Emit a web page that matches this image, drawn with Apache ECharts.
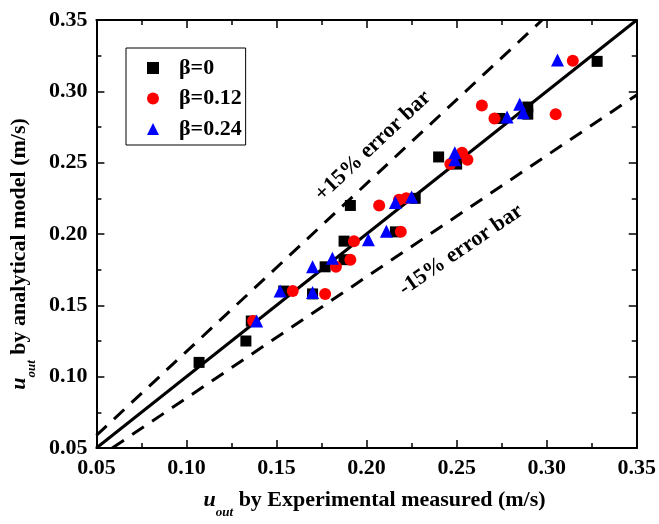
<!DOCTYPE html>
<html>
<head>
<meta charset="utf-8">
<script src="https://cdn.jsdelivr.net/npm/echarts@6/dist/echarts.min.js"></script>
<style>html,body{margin:0;padding:0;background:#fff}#c{width:659px;height:524px}</style>
</head>
<body>
<div id="c"></div>
<script>
// Experimental (x) vs analytical model (y) outlet velocity, m/s
const beta0 = [
  [0.107,0.110],[0.133,0.125],[0.136,0.139],[0.154,0.160],[0.170,0.158],
  [0.177,0.177],[0.1875,0.182],[0.1875,0.195],[0.191,0.220],[0.216,0.2015],
  [0.227,0.225],[0.240,0.254],[0.250,0.249],[0.274,0.281],[0.2895,0.289],
  [0.2895,0.284],[0.328,0.321]
];
const beta012 = [
  [0.137,0.139],[0.159,0.160],[0.177,0.158],[0.183,0.177],[0.191,0.182],
  [0.193,0.195],[0.207,0.220],[0.218,0.224],[0.222,0.225],[0.219,0.2015],
  [0.2465,0.249],[0.253,0.257],[0.256,0.252],[0.264,0.290],[0.271,0.281],
  [0.305,0.284],[0.3145,0.3215]
];
const beta024 = [
  [0.139,0.139],[0.152,0.160],[0.170,0.159],[0.170,0.177],[0.181,0.183],
  [0.201,0.196],[0.211,0.202],[0.216,0.222],[0.225,0.226],[0.249,0.257],
  [0.249,0.252],[0.278,0.282],[0.285,0.291],[0.287,0.285],[0.306,0.322]
];
const seriesNames = ['β=0','β=0.12','β=0.24'];
const axisMin = 0.05, axisMax = 0.35, axisStep = 0.05;
// reference lines: y = k * x  (perfect agreement, +15% and -15% bands)
const lineSlopes = [1, 1/0.85, 0.85];
const errorLabels = ['+15% error bar','-15% error bar'];

function clippedLine(k){
  const x0 = Math.max(axisMin, axisMin / k);
  const x1 = Math.min(axisMax, axisMax / k);
  return [[x0, k*x0],[x1, k*x1]];
}

const FONT = "'Liberation Serif','Times New Roman',serif";
const chart = echarts.init(document.getElementById('c'), null, {renderer:'canvas'});

const richName = {
  i:{fontFamily:FONT,fontWeight:'bold',fontStyle:'italic',fontSize:22,lineHeight:38,color:'#000'},
  s:{fontFamily:FONT,fontWeight:'bold',fontStyle:'italic',fontSize:13,lineHeight:14,verticalAlign:'bottom',color:'#000'},
  n:{fontFamily:FONT,fontWeight:'bold',fontSize:22,lineHeight:38,color:'#000'}
};

function baseAxis(pos, showLabel){
  return {
    type:'value', min:axisMin, max:axisMax, interval:axisStep, position:pos,
    axisLine:{show:true,onZero:false,lineStyle:{color:'#000',width:2}},
    axisTick:{show:true,inside:true,length:8,lineStyle:{color:'#000',width:1.5}},
    minorTick:{show:true,splitNumber:2,length:5,lineStyle:{color:'#000',width:1.5}},
    splitLine:{show:false},
    axisLabel:{show:showLabel,color:'#000',fontFamily:FONT,fontWeight:'bold',fontSize:22,margin:9,
      formatter:v=>v.toFixed(2)}
  };
}

const xMain = Object.assign(baseAxis('bottom', true), {
  name:'{i|u}{s|out}{n| by Experimental measured (m/s)}',
  nameLocation:'middle', nameGap:33, nameTextStyle:{rich:richName, padding:[0,0,0,16]}
});
const yMain = Object.assign(baseAxis('left', true), {
  name:'{i|u}{s|out}{n| by analytical model (m/s)}',
  nameLocation:'middle', nameGap:39, nameTextStyle:{rich:richName, padding:[0,40,0,0]}
});
const xTop = baseAxis('top', false);
const yRight = baseAxis('right', false);

const lineSeries = lineSlopes.map((k,i)=>({
  type:'line', data:clippedLine(k), symbol:'none', silent:true, z:1,
  xAxisIndex:0, yAxisIndex:0,
  lineStyle:{color:'#000', width:3, type: i===0 ? 'solid' : [14,10]}
}));

const scatterDefs = [
  {name:seriesNames[0], data:beta0, symbol:'rect', size:11, color:'#000000'},
  {name:seriesNames[1], data:beta012, symbol:'circle', size:12, color:'#ff0000'},
  {name:seriesNames[2], data:beta024, symbol:'triangle', size:13, color:'#0000ff'}
];
const scatterSeries = scatterDefs.map(d=>({
  type:'scatter', name:d.name, data:d.data, symbol:d.symbol, symbolSize:d.size,
  xAxisIndex:0, yAxisIndex:0, z:3,
  itemStyle:{color:d.color, opacity:1}
}));

chart.setOption({
  animation:false,
  backgroundColor:'#fff',
  grid:{left:91, right:21, top:20, bottom:64, containLabel:false},
  xAxis:[xMain, xTop],
  yAxis:[yMain, yRight],
  legend:{
    data:seriesNames, orient:'vertical', left:126, top:48,
    padding:[9,4,5,21], itemGap:8.5, itemWidth:12, itemHeight:12,
    borderColor:'#000', borderWidth:1, backgroundColor:'#fff',
    textStyle:{fontFamily:FONT,fontWeight:'bold',fontSize:22,color:'#000',padding:[0,0,0,15]},
    selectedMode:false
  },
  graphic:[
    {type:'text', x:373, y:146, rotation:43.4*Math.PI/180,
     style:{text:errorLabels[0], fontFamily:FONT, fontWeight:'bold', fontSize:22, fill:'#000', align:'center', verticalAlign:'middle'}},
    {type:'text', x:461, y:250, rotation:34.4*Math.PI/180,
     style:{text:errorLabels[1], fontFamily:FONT, fontWeight:'bold', fontSize:22, fill:'#000', align:'center', verticalAlign:'middle'}}
  ],
  series:[...lineSeries, ...scatterSeries]
});
</script>
</body>
</html>
